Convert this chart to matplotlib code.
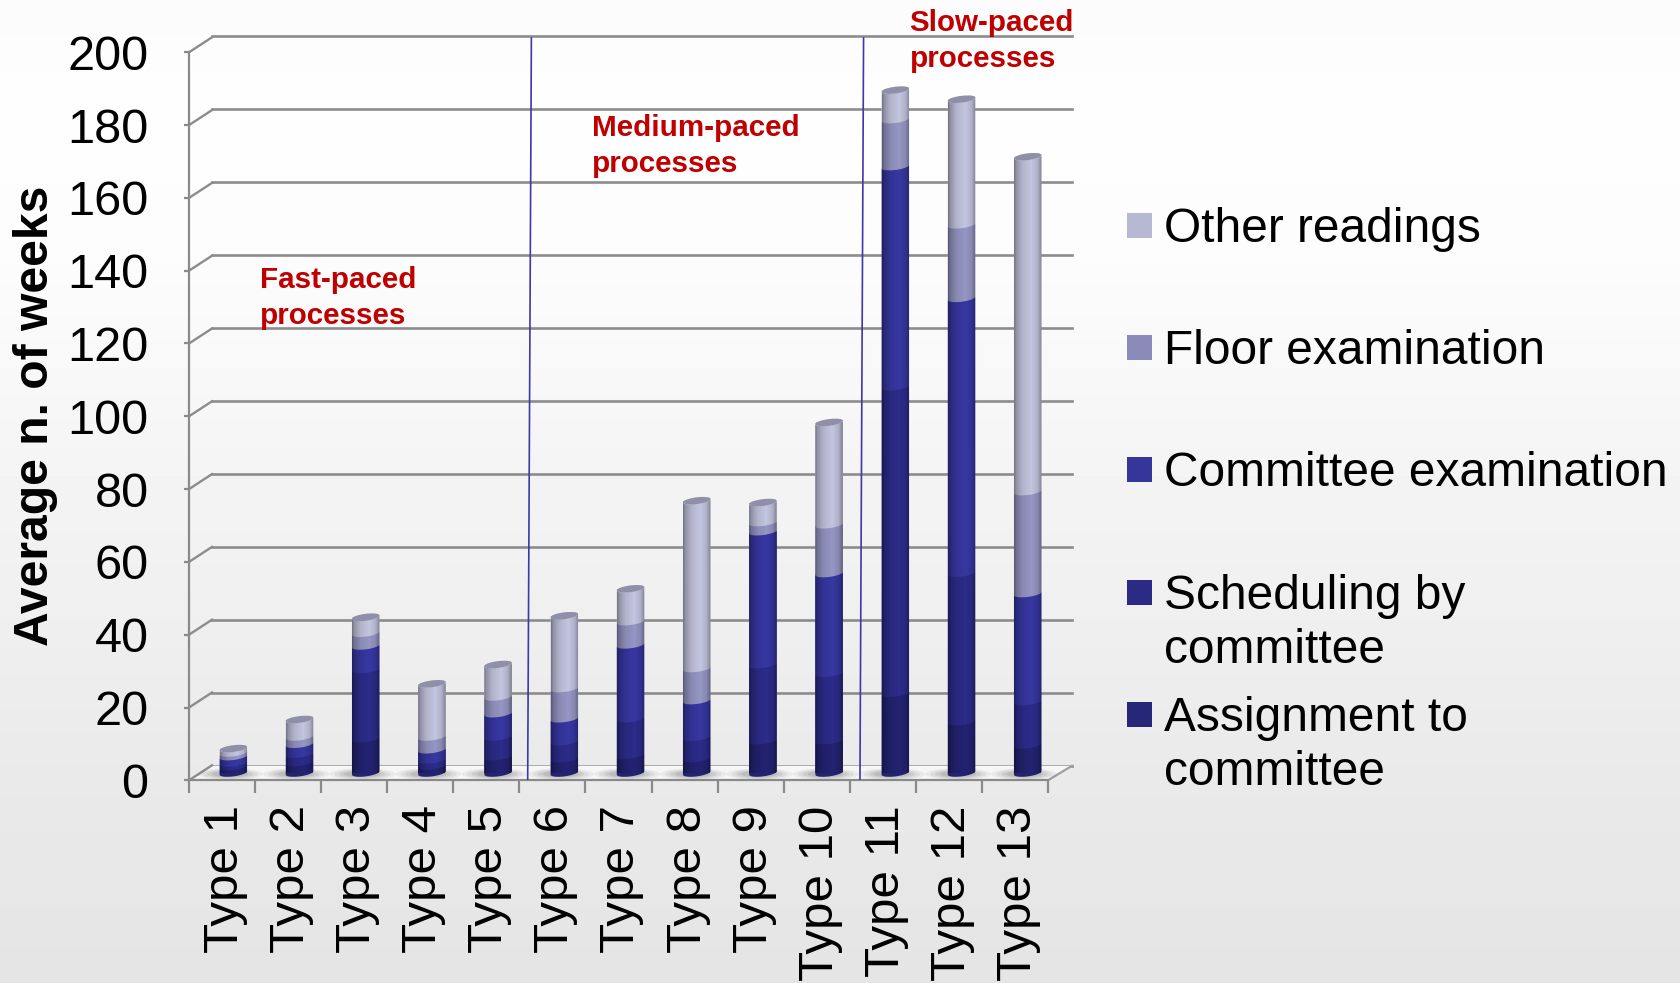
import numpy as np
import matplotlib
matplotlib.use("Agg")
import matplotlib.pyplot as plt
from matplotlib.colors import LinearSegmentedColormap
from matplotlib.patches import Polygon, Ellipse, Rectangle
from matplotlib.transforms import ScaledTranslation

plt.rcParams['font.family'] = ['Liberation Sans', 'DejaVu Sans']

types = ['Type 1', 'Type 2', 'Type 3', 'Type 4', 'Type 5', 'Type 6', 'Type 7',
         'Type 8', 'Type 9', 'Type 10', 'Type 11', 'Type 12', 'Type 13']
assignment = [1.7, 2.9, 9.4, 1.9, 4.5, 3.9, 4.9, 4.0, 8.9, 8.9, 21.9, 14.1, 7.7]
scheduling = [1.0, 2.3, 19.0, 1.7, 5.4, 4.7, 10.0, 5.8, 20.9, 18.5, 84.2, 40.8, 11.9]
committee = [1.8, 2.7, 6.5, 2.8, 6.4, 6.3, 20.3, 10.1, 36.5, 27.4, 60.5, 75.5, 29.7]
floor_exam = [1.0, 2.0, 3.5, 3.5, 4.6, 8.3, 6.4, 8.8, 2.5, 13.4, 12.9, 20.2, 28.0]
other = [1.2, 4.8, 4.4, 14.6, 8.9, 20.0, 9.0, 46.1, 5.5, 28.1, 8.1, 34.5, 92.0]

series = [assignment, scheduling, committee, floor_exam, other]
series_colors = ['#232372', '#2C2C8A', '#3737A2', '#9696C4', '#C3C4DE']
legend_labels = ['Other readings', 'Floor examination', 'Committee examination',
                 'Scheduling by\ncommittee', 'Assignment to\ncommittee']
legend_colors = ['#B7B8D3', '#8A8BB9', '#35359A', '#2B2B85', '#27277A']
y_ticks = list(range(0, 201, 20))
annotations = [('Fast-paced\nprocesses', 259.5, 298),
               ('Medium-paced\nprocesses', 592, 146),
               ('Slow-paced\nprocesses', 909.5, 41)]

W, H = 1680, 983
fig = plt.figure(figsize=(W / 100, H / 100), dpi=100)


def axes_px(left, right, top, bottom, z):
    a = fig.add_axes([left / W, 1 - bottom / H, (right - left) / W, (bottom - top) / H], zorder=z)
    a.patch.set_alpha(0)
    return a


# background gradient
bg = axes_px(0, W, 0, H, 0)
ys = np.linspace(0, 1, 256)[:, None]
greys = np.interp(ys, [0, 0.1, 0.25, 0.5, 0.8, 1.0], [0.985, 0.995, 0.99, 0.955, 0.915, 0.895])
bg.imshow(greys, cmap='gray', vmin=0, vmax=1, aspect='auto', extent=[0, 1, 0, 1])
bg.axis('off')

GRID = '#8C8C8C'
AXC = '#8A8A8A'

# back wall with the gridlines
back = axes_px(212, 1072, 36, 766, 1)
back.set_xlim(0, 13)
back.set_ylim(0, 200)
back.set_yticks(y_ticks)
back.set_xticks([])
back.tick_params(left=False, labelleft=False)
back.grid(axis='y', color=GRID, lw=1.9)
for ln in back.get_ygridlines():
    ln.set_clip_on(False)
for s in back.spines.values():
    s.set_visible(False)

# front axes: real ticks and labels
front = axes_px(189, 1048, 52.3, 780.3, 2)
front.set_xlim(0, 13)
front.set_ylim(0, 200)
front.set_yticks(y_ticks)
front.set_xticks(np.arange(14))
front.set_xticklabels([])
front.set_xticks(np.arange(13) + 0.5, labels=types, minor=True)
front.tick_params(axis='x', which='major', length=9.5, width=1.6, color=AXC)
front.tick_params(axis='x', which='minor', length=0, pad=18, labelsize=35.5, labelrotation=90)
front.tick_params(axis='y', length=3.6, width=1.6, color=AXC, labelsize=35, pad=25.5)
shift = ScaledTranslation(3.5 / 100, 0, fig.dpi_scale_trans)
for lab in front.get_xticklabels(minor=True):
    lab.set_verticalalignment('top')
    lab.set_clip_on(False)
    lab.set_transform(lab.get_transform() + shift)
for k in ('top', 'right'):
    front.spines[k].set_visible(False)
for k in ('left', 'bottom'):
    front.spines[k].set_color(AXC)
    front.spines[k].set_linewidth(1.6)
front.set_ylabel('Average n. of weeks', fontsize=34.6, fontweight='bold')
front.yaxis.set_label_coords((58.5 - 189) / 859, (780.3 - 416) / 728)

px_x = 1 / 66.08
px_y = 1 / 3.64
# side-wall and floor edges
for v in y_ticks:
    front.plot([0, 23 * px_x], [v, v + 15 * px_y], color=GRID, lw=1.7, clip_on=False, zorder=2)
front.plot([13, 13 + 24 * px_x], [0, 14.5 * px_y], color='#A0A0A0', lw=1.6, clip_on=False, zorder=2)
front.add_patch(Polygon([(0, 0), (13, 0), (13 + 24 * px_x, 14.5 * px_y), (23 * px_x, 14.5 * px_y)],
                        closed=True, fc='#F6F6F6', ec='none', zorder=1, clip_on=False))
# phase dividers
for (xt, xb) in [(531.4, 527.7), (863.6, 860)]:
    front.plot([(xt - 189) * px_x, (xb - 189) * px_x], [(780.3 - 38) * px_y, (780.3 - 779) * px_y],
               color='#3A3AA8', lw=1.2, clip_on=False, zorder=5)

# bars, on the middle depth of the floor
bars = axes_px(200.2, 1060.8, 45, 773, 3)
bars.set_xlim(0, 13)
bars.set_ylim(0, 200)
bars.axis('off')

bw = 27.5 / 66.2
rb = 3.4 * px_y
tilt = 1.7 * px_y
shade = LinearSegmentedColormap.from_list('s', [(0, 0, 0, 0), (0, 0, 0, 1)])
xshade = np.interp(np.linspace(0, 1, 80), [0, 0.08, 0.3, 0.62, 0.85, 1.0],
                   [0.42, 0.26, 0.09, 0.0, 0.10, 0.36])[None, :]
t_front = np.linspace(np.pi, 2 * np.pi, 24)


def arc(xc, v, t):
    return np.column_stack([xc + bw / 2 * np.cos(t), v + rb * np.sin(t) + tilt * np.cos(t)])


centers = np.arange(13) + 0.5
totals = np.sum(series, axis=0)

for xc in centers:
    for scale, a in [(1.0, 0.08), (0.85, 0.10), (0.7, 0.13), (0.55, 0.15)]:
        bars.add_patch(Ellipse((xc - 0.05, -0.3), scale * 1.0, scale * 3.2, fc='#666666', ec='none',
                               alpha=a, zorder=1, clip_on=False))

cum = np.zeros(13)
containers = []
for vals, col in zip(series, series_colors):
    containers.append(bars.bar(centers, vals, width=bw, bottom=cum, color=col, linewidth=0, zorder=2))
    for i, xc in enumerate(centers):
        poly = np.vstack([arc(xc, cum[i], t_front), arc(xc, cum[i] + vals[i], t_front)[::-1]])
        bars.add_patch(Polygon(poly, closed=True, fc=col, ec='none', zorder=3, clip_on=False))
    cum = cum + np.array(vals)

for i, xc in enumerate(centers):
    sil = np.vstack([arc(xc, 0, t_front), arc(xc, totals[i], t_front)[::-1],
                     arc(xc, totals[i], t_front - np.pi)])
    clip = Polygon(sil, closed=True, transform=bars.transData)
    for c in containers:
        c[i].set_clip_path(clip)
    im = bars.imshow(xshade, cmap=shade, vmin=0, vmax=1, aspect='auto', zorder=4,
                     extent=[xc - bw / 2, xc + bw / 2, -3, totals[i] + 3], interpolation='bilinear')
    im.set_clip_path(clip)
    top = arc(xc, totals[i], np.linspace(0, 2 * np.pi, 48))
    bars.add_patch(Polygon(top, closed=True, fc='#8F8FA9', ec='none', zorder=5, clip_on=False))
bars.set_xlim(0, 13)
bars.set_ylim(0, 200)

# annotations
for txt, x, y in annotations:
    fig.text(x / W, 1 - y / H, txt, color='#C00000', fontsize=21.3, fontweight='bold', va='center',
             ha='left', linespacing=1.38, zorder=10)

# legend
swatch_y = [225.8, 347.8, 469.8, 592.3, 714.3]
text_base = [241.5, 363.5, 486, 607, 729]
for lab, col, yy, tb in zip(legend_labels, legend_colors, swatch_y, text_base):
    fig.add_artist(Rectangle((1127 / W, 1 - (yy + 12.5) / H), 25 / W, 25 / H, transform=fig.transFigure,
                             fc=col, ec='none', zorder=10))
    extra = 56 * lab.count('\n')
    fig.text(1163.5 / W, 1 - (tb + extra) / H, lab, fontsize=34.5, color='black', va='baseline',
             ha='left', linespacing=1.27, zorder=10)

fig.savefig('out.png', dpi=100)
